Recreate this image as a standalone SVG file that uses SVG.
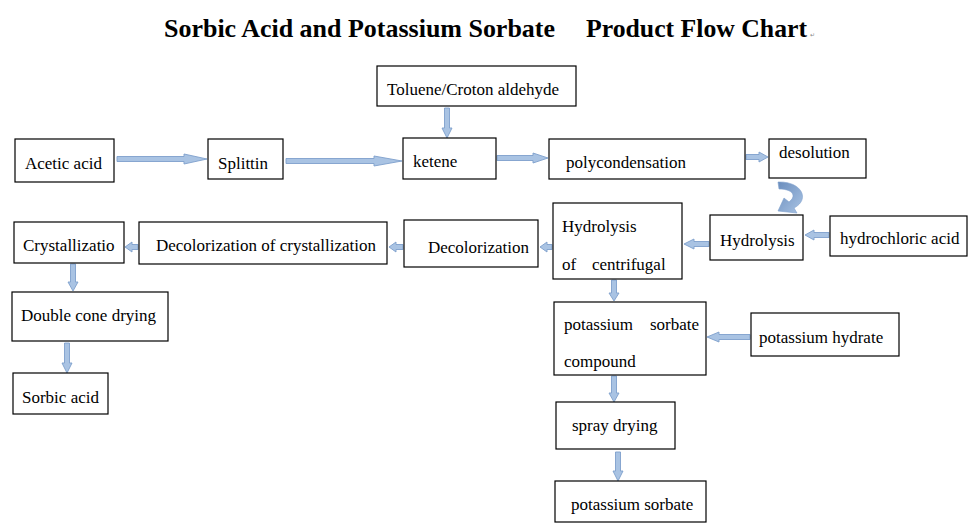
<svg xmlns="http://www.w3.org/2000/svg" width="979" height="529" viewBox="0 0 979 529">
<style>
.box{fill:#ffffff;stroke:#000000;stroke-width:1.2}
.t{font-family:"Liberation Serif","Times New Roman",serif;font-size:17px;fill:#000000}
.title{font-family:"Liberation Serif","Times New Roman",serif;font-size:25px;font-weight:bold;fill:#000000}
.arr{fill:#a9c3e3;stroke:#7e9fcc;stroke-width:0.9;stroke-linejoin:miter}
</style>
<defs>
<linearGradient id="cg" x1="0" y1="0" x2="1" y2="1">
<stop offset="0" stop-color="#6a8dbd"/>
<stop offset="1" stop-color="#aac4e4"/>
</linearGradient>
</defs>
<rect width="979" height="529" fill="#ffffff"/>
<g id="title">
<text class="title" x="164" y="37" textLength="391" lengthAdjust="spacingAndGlyphs">Sorbic Acid and Potassium Sorbate</text>
<text class="title" x="586" y="37" textLength="221" lengthAdjust="spacingAndGlyphs">Product Flow Chart</text>
<text x="810" y="37" font-family="DejaVu Sans, sans-serif" font-size="6" fill="#888888">↵</text>
</g>
<g id="connectors">
<path class="arr" d="M117 156.5 L184 156.5 L184 154 L207 159 L184 164 L184 161.5 L117 161.5 Z"/>
<path class="arr" d="M286 158.5 L374 158.5 L374 156 L402 161 L374 166 L374 163.5 L286 163.5 Z"/>
<path class="arr" d="M497 155.5 L533 155.5 L533 153 L548 158 L533 163 L533 160.5 L497 160.5 Z"/>
<path class="arr" d="M746 154.5 L759 154.5 L759 152 L768 157 L759 162 L759 159.5 L746 159.5 Z"/>
<path class="arr" d="M444.5 108 L444.5 128 L442 128 L447 138 L452 128 L449.5 128 L449.5 108 Z"/>
<path d="M778 182 C801 181 811 199 794 208 L797 213 L778 211 L784 198 L789 202 C797 196 793 189 779 189 Z" fill="url(#cg)" stroke="#7e9fcc" stroke-width="0.6"/>
<path class="arr" d="M829 232.5 L814 232.5 L814 230 L805 235 L814 240 L814 237.5 L829 237.5 Z"/>
<path class="arr" d="M709 241.5 L694 241.5 L694 239 L684 244 L694 249 L694 246.5 L709 246.5 Z"/>
<path class="arr" d="M552 244.5 L547 244.5 L547 242 L540 247 L547 252 L547 249.5 L552 249.5 Z"/>
<path class="arr" d="M403 244.5 L396 244.5 L396 242 L389 247 L396 252 L396 249.5 L403 249.5 Z"/>
<path class="arr" d="M138 244.5 L132 244.5 L132 242 L125 247 L132 252 L132 249.5 L138 249.5 Z"/>
<path class="arr" d="M70.5 264 L70.5 282 L68 282 L73 291 L78 282 L75.5 282 L75.5 264 Z"/>
<path class="arr" d="M64.5 343 L64.5 363 L62 363 L67 373 L72 363 L69.5 363 L69.5 343 Z"/>
<path class="arr" d="M611.5 280 L611.5 293 L609 293 L614 301 L619 293 L616.5 293 L616.5 280 Z"/>
<path class="arr" d="M750 334.5 L719 334.5 L719 332 L707 337 L719 342 L719 339.5 L750 339.5 Z"/>
<path class="arr" d="M611.5 376 L611.5 393 L609 393 L614 402 L619 393 L616.5 393 L616.5 376 Z"/>
<path class="arr" d="M615.5 452 L615.5 471 L613 471 L618 481 L623 471 L620.5 471 L620.5 452 Z"/>
</g>
<g id="toluene">
<rect class="box" x="377" y="66" width="199" height="40"/>
<text class="t" x="387" y="95">Toluene/Croton aldehyde</text>
</g>
<g id="acetic-acid">
<rect class="box" x="15" y="139" width="99" height="43"/>
<text class="t" x="25" y="169">Acetic acid</text>
</g>
<g id="splittin">
<rect class="box" x="208" y="139" width="75" height="40"/>
<text class="t" x="218" y="169">Splittin</text>
</g>
<g id="ketene">
<rect class="box" x="403" y="138" width="93" height="41"/>
<text class="t" x="413" y="167">ketene</text>
</g>
<g id="polycondensation">
<rect class="box" x="549" y="139" width="196" height="40"/>
<text class="t" x="566" y="168">polycondensation</text>
</g>
<g id="desolution">
<rect class="box" x="769" y="139" width="97" height="39"/>
<text class="t" x="779" y="158">desolution</text>
</g>
<g id="hydrolysis">
<rect class="box" x="710" y="215" width="93" height="45"/>
<text class="t" x="720" y="246">Hydrolysis</text>
</g>
<g id="hydrochloric-acid">
<rect class="box" x="830" y="216" width="137" height="40"/>
<text class="t" x="840" y="244">hydrochloric acid</text>
</g>
<g id="hydrolysis-centrifugal">
<rect class="box" x="553" y="203" width="129" height="76"/>
<text class="t" x="562" y="232">Hydrolysis</text>
<text class="t" y="270"><tspan x="562">of</tspan><tspan x="592">centrifugal</tspan></text>
</g>
<g id="decolorization">
<rect class="box" x="404" y="220" width="134" height="47"/>
<text class="t" x="428" y="253">Decolorization</text>
</g>
<g id="decolorization-crystallization">
<rect class="box" x="139" y="222" width="248" height="42"/>
<text class="t" x="156" y="251">Decolorization of crystallization</text>
</g>
<g id="crystallization">
<rect class="box" x="14" y="222" width="110" height="41"/>
<text class="t" x="23" y="251">Crystallizatio</text>
</g>
<g id="double-cone-drying">
<rect class="box" x="12" y="292" width="156" height="49"/>
<text class="t" x="21" y="321">Double cone drying</text>
</g>
<g id="sorbic-acid">
<rect class="box" x="13" y="373" width="95" height="41"/>
<text class="t" x="22" y="403">Sorbic acid</text>
</g>
<g id="potassium-sorbate-compound">
<rect class="box" x="554" y="302" width="152" height="73"/>
<text class="t" y="330"><tspan x="564">potassium</tspan><tspan x="650">sorbate</tspan></text>
<text class="t" x="564" y="367">compound</text>
</g>
<g id="potassium-hydrate">
<rect class="box" x="751" y="313" width="148" height="43"/>
<text class="t" x="759" y="343">potassium hydrate</text>
</g>
<g id="spray-drying">
<rect class="box" x="556" y="402" width="119" height="47"/>
<text class="t" x="572" y="431">spray drying</text>
</g>
<g id="potassium-sorbate">
<rect class="box" x="555" y="481" width="151" height="41"/>
<text class="t" x="571" y="510">potassium sorbate</text>
</g>
</svg>
